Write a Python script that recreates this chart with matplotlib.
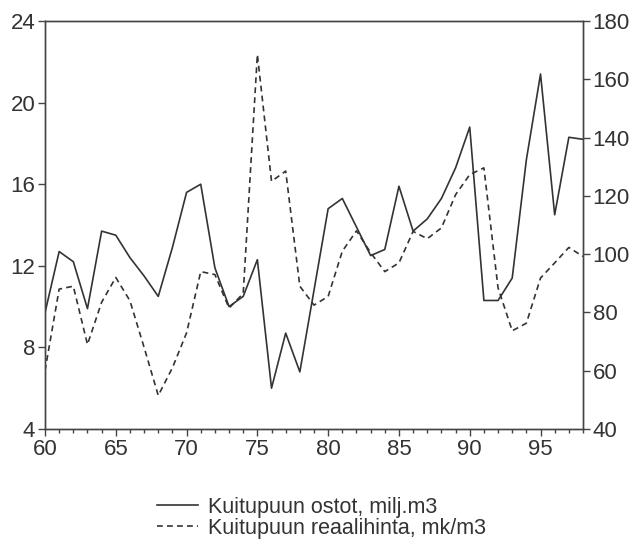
import numpy as np
import matplotlib
matplotlib.use('Agg')
import matplotlib.pyplot as plt
from matplotlib.ticker import MultipleLocator

plt.rcParams['font.family'] = ['Liberation Sans', 'DejaVu Sans']

# years 1960-1998 (two-digit labels on the axis)
years = list(range(60, 99))

# Kuitupuun ostot, milj. m3 (left axis)
ostot = [9.7, 12.7, 12.2, 9.9, 13.7, 13.5, 12.4, 11.5, 10.5, 12.9,
         15.6, 16.0, 11.9, 10.0, 10.5, 12.3, 6.0, 8.7, 6.8, 10.8,
         14.8, 15.3, 13.9, 12.5, 12.8, 15.9, 13.7, 14.3, 15.3, 16.8,
         18.8, 10.3, 10.3, 11.4, 17.2, 21.4, 14.5, 18.3, 18.2]

# Kuitupuun reaalihinta, mk/m3 (right axis)
hinta = [60, 88, 89, 69, 83.5, 92, 84, 68, 51.5, 61,
         73, 94, 93, 81.5, 86.5, 168.5, 125, 128.5, 89, 82.5,
         85.5, 101, 108, 100.5, 94, 97, 107.8, 105.3, 109, 120.4,
         127.3, 129.6, 88.4, 73.7, 76.3, 91.8, 97, 102.3, 99.2]

line_col = '#333333'

fig = plt.figure(figsize=(6.36, 5.46), dpi=100)
ax = fig.add_axes([45 / 636, 1 - 429 / 546, (583 - 45) / 636, (429 - 21) / 546])
ax2 = ax.twinx()

l1, = ax.plot(years, ostot, color=line_col, lw=1.2, label='Kuitupuun ostot, milj.m3')
l2, = ax2.plot(years, hinta, color=line_col, lw=1.2, ls=(0, (3.5, 2.5)),
               label='Kuitupuun reaalihinta, mk/m3')

ax.set_xlim(60, 98)
ax.set_ylim(4, 24)
ax2.set_ylim(40, 180)
ax.xaxis.set_major_locator(MultipleLocator(5))
ax.xaxis.set_minor_locator(MultipleLocator(1))
ax.yaxis.set_major_locator(MultipleLocator(4))
ax2.yaxis.set_major_locator(MultipleLocator(20))

for a in (ax, ax2):
    for s in a.spines.values():
        s.set_color('#444444')
        s.set_linewidth(1.0)
    a.tick_params(which='major', direction='out', length=5, width=1.0,
                  color='#444444', labelsize=16, labelcolor='#333333', pad=2)
    a.tick_params(which='minor', direction='out', length=3, width=1.0, color='#444444')

fig.legend(handles=[l1, l2], loc='upper left', bbox_to_anchor=(146 / 636, 1 - 486 / 546),
           frameon=False, fontsize=15.5, handlelength=1.9, handletextpad=0.5,
           labelspacing=0.0, borderpad=0, labelcolor='#333333')

fig.savefig('out.png', dpi=100)
